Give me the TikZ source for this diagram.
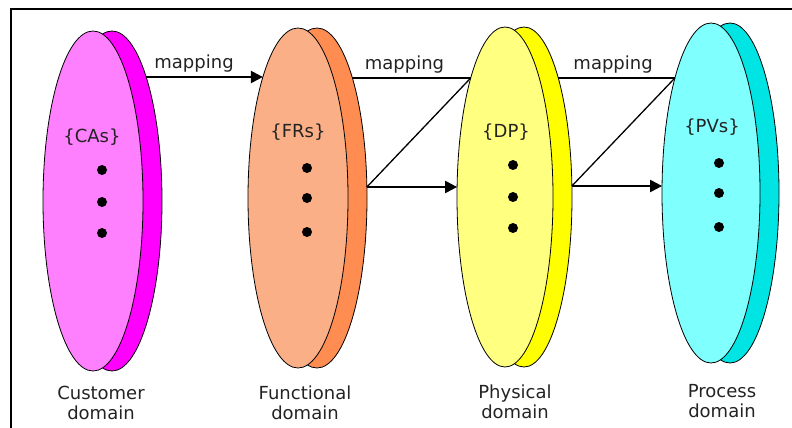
\documentclass[tikz,border=0pt]{standalone}
\usepackage{fontspec}
\setmainfont{DejaVu Sans}
\usepackage{xcolor}
\usepackage{tikz}
\usetikzlibrary{shapes.geometric, arrows.meta, positioning, calc}
\definecolor{custfront}{RGB}{255, 128, 255}
\definecolor{custback}{RGB}{255, 0, 255}
\definecolor{funcfront}{RGB}{250, 175, 135}
\definecolor{funcback}{RGB}{255, 140, 80}
\definecolor{physfront}{RGB}{255, 255, 128}
\definecolor{physback}{RGB}{255, 255, 0}
\definecolor{procfront}{RGB}{128, 255, 255}
\definecolor{procback}{RGB}{0, 228, 228}
\definecolor{textgray}{RGB}{35, 35, 35}
\tikzset{
  disc/.style={ellipse, draw=black, line width=0.8pt, minimum height=340pt,
    inner sep=0pt, outer sep=0pt},
  maplabel/.style={above, font=\fontsize{18}{20}\selectfont, text=textgray},
  setlabel/.style={font=\fontsize{18}{20}\selectfont, text=textgray},
  domlabel/.style={align=center, font=\fontsize{18}{20}\selectfont, text=textgray},
  mapline/.style={line width=2.2pt},
  maparrow/.style={line width=2.2pt, -{Triangle[length=12pt, width=12pt]}},
  crossline/.style={line width=1.3pt}
}
\newcommand{\domaindisc}[6]{%
  \node[disc, fill=#6, minimum width=#4] (#1B) at (#2+19,#3) {};
  \node[disc, fill=#5, minimum width=#4] (#1F) at (#2,#3) {};
}

\begin{document}
\begin{tikzpicture}[x=1pt, y=-1pt]
    \useasboundingbox (0,0) rectangle (792,428);
    % Frame (top and left edges only)
    \draw[line width=2.5pt] (11,428) -- (11,9) -- (792,9);
    % Domains
    \domaindisc{cus}{93}{201}{100pt}{custfront}{custback}
    \domaindisc{fun}{298}{198}{100pt}{funcfront}{funcback}
    \domaindisc{phy}{505}{197}{96pt}{physfront}{physback}
    \domaindisc{pro}{711}{193}{98pt}{procfront}{procback}
    % Sets
    \node[setlabel] (cusset) at (92,137) {\{CAs\}};
    \node[setlabel] (funset) at (298,132) {\{FRs\}};
    \node[setlabel] (physet) at (506,132) {\{DP\}};
    \node[setlabel] (proset) at (712,127) {\{PVs\}};
    % Dots
    \foreach \y in {170,202,233} \fill (102,\y) circle (5pt);
    \foreach \y in {168,198,232} \fill (307,\y) circle (5pt);
    \foreach \y in {165,197,228} \fill (513,\y) circle (5pt);
    \foreach \y in {163,193,227} \fill (719,\y) circle (5pt);
    % Points on the disc rims
    \coordinate (cusout) at ($(cusB.center)+(34.2,-124)$);
    \coordinate (funtop) at ($(funF.center)+(-35.1,-121)$);
    \coordinate (funout) at ($(funB.center)+(35.4,-120)$);
    \coordinate (funlow) at ($(funB.center)+(49.9,-11)$);
    \coordinate (phytop) at ($(phyF.center)+(-34.3,-119)$);
    \coordinate (phyin) at ($(phyF.center)+(-47.9,-10)$);
    \coordinate (phyout) at ($(phyB.center)+(34.3,-119)$);
    \coordinate (phylow) at ($(phyB.center)+(47.9,-11)$);
    \coordinate (protop) at ($(proF.center)+(-36.1,-115)$);
    \coordinate (proin) at ($(proF.center)+(-48.9,-7)$);
    % Customer -> Functional
    \draw[maparrow] (cusout) -- node[maplabel, pos=0.41] (map1) {mapping} (funtop);
    % Functional -> Physical
    \draw[mapline] (funout) -- node[maplabel, pos=0.44] (map2) {mapping} (phytop);
    \draw[crossline] (phytop) -- (funlow);
    \draw[maparrow] (funlow) -- (phyin);
    % Physical -> Process
    \draw[mapline] (phyout) -- node[maplabel, pos=0.47] (map3) {mapping} (protop);
    \draw[crossline] (protop) -- (phylow);
    \draw[maparrow] (phylow) -- (proin);
    % Domain names
    \node[domlabel] (cusname) at (101,403) {Customer\\domain};
    \node[domlabel] (funname) at (305,403) {Functional\\domain};
    \node[domlabel] (phyname) at (515,402) {Physical\\domain};
    \node[domlabel] (proname) at (722,401) {Process\\domain};
  \end{tikzpicture}
\end{document}
